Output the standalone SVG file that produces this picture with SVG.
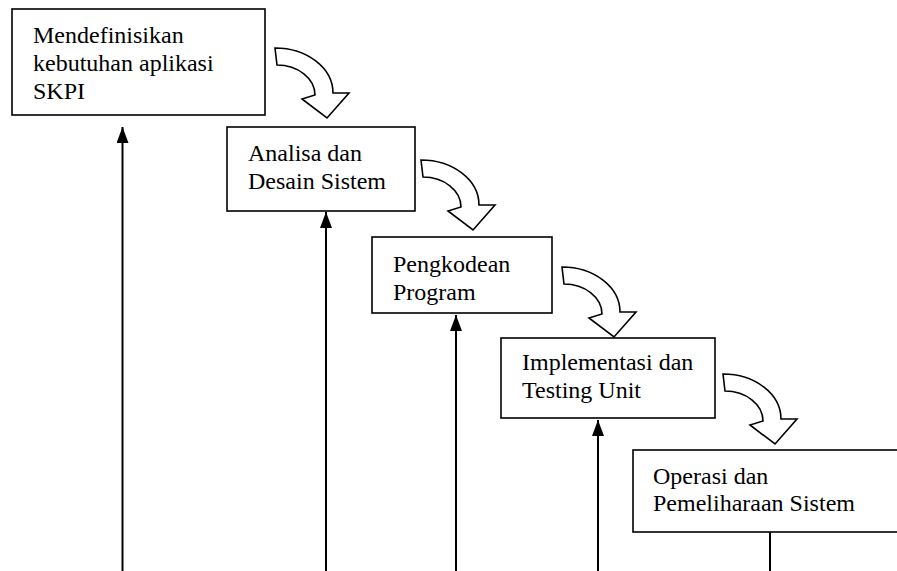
<svg xmlns="http://www.w3.org/2000/svg" width="897" height="571" viewBox="0 0 897 571">
<style>
.box{fill:#fff;stroke:#000;stroke-width:1.6}
.t{font-family:'Liberation Serif','DejaVu Serif',serif;font-size:24px;fill:#000}
.ln{stroke:#000;stroke-width:2;fill:none}
.ca{fill:#fff;stroke:#000;stroke-width:1.6;stroke-linejoin:miter}
</style>
<defs>
<marker id="ah" markerUnits="userSpaceOnUse" markerWidth="16" markerHeight="12" refX="16" refY="6" orient="auto" viewBox="0 0 16 12">
<path d="M0,0 L16,6 L0,12 Z" fill="#000"/>
</marker>
<path id="curve" d="M275,48 A58,45 0 0 1 333,93 L349,93 L327,118 L302,99 L315,95 A38,30 0 0 0 277,65 Z"/>
</defs>
<g id="connectors">
<line class="ln" x1="122.5" y1="571" x2="122.5" y2="127" marker-end="url(#ah)"/>
<line class="ln" x1="326" y1="571" x2="326" y2="212" marker-end="url(#ah)"/>
<line class="ln" x1="456" y1="571" x2="456" y2="315" marker-end="url(#ah)"/>
<line class="ln" x1="598" y1="571" x2="598" y2="420" marker-end="url(#ah)"/>
<line class="ln" x1="770" y1="532" x2="770" y2="571"/>
<use href="#curve" class="ca"/>
<use href="#curve" class="ca" transform="translate(146,112)"/>
<use href="#curve" class="ca" transform="translate(287,219)"/>
<use href="#curve" class="ca" transform="translate(448,326)"/>
</g>
<g id="node1">
<rect class="box" x="12" y="9" width="253" height="106"/>
<text class="t" font-family="Liberation Serif" x="33" y="43">Mendefinisikan</text>
<text class="t" font-family="Liberation Serif" x="33" y="71">kebutuhan aplikasi</text>
<text class="t" font-family="Liberation Serif" x="33" y="99">SKPI</text>
</g>
<g id="node2">
<rect class="box" x="227" y="127" width="188" height="84"/>
<text class="t" font-family="Liberation Serif" x="248" y="161">Analisa dan</text>
<text class="t" font-family="Liberation Serif" x="248" y="189">Desain Sistem</text>
</g>
<g id="node3">
<rect class="box" x="372" y="237" width="180" height="76"/>
<text class="t" font-family="Liberation Serif" x="393" y="272">Pengkodean</text>
<text class="t" font-family="Liberation Serif" x="393" y="300">Program</text>
</g>
<g id="node4">
<rect class="box" x="501" y="338" width="214" height="80"/>
<text class="t" font-family="Liberation Serif" x="522" y="370">Implementasi dan</text>
<text class="t" font-family="Liberation Serif" x="522" y="398">Testing Unit</text>
</g>
<g id="node5">
<rect class="box" x="633" y="450" width="270" height="82"/>
<text class="t" font-family="Liberation Serif" x="653" y="484">Operasi dan</text>
<text class="t" font-family="Liberation Serif" x="653" y="511">Pemeliharaan Sistem</text>
</g>
</svg>
